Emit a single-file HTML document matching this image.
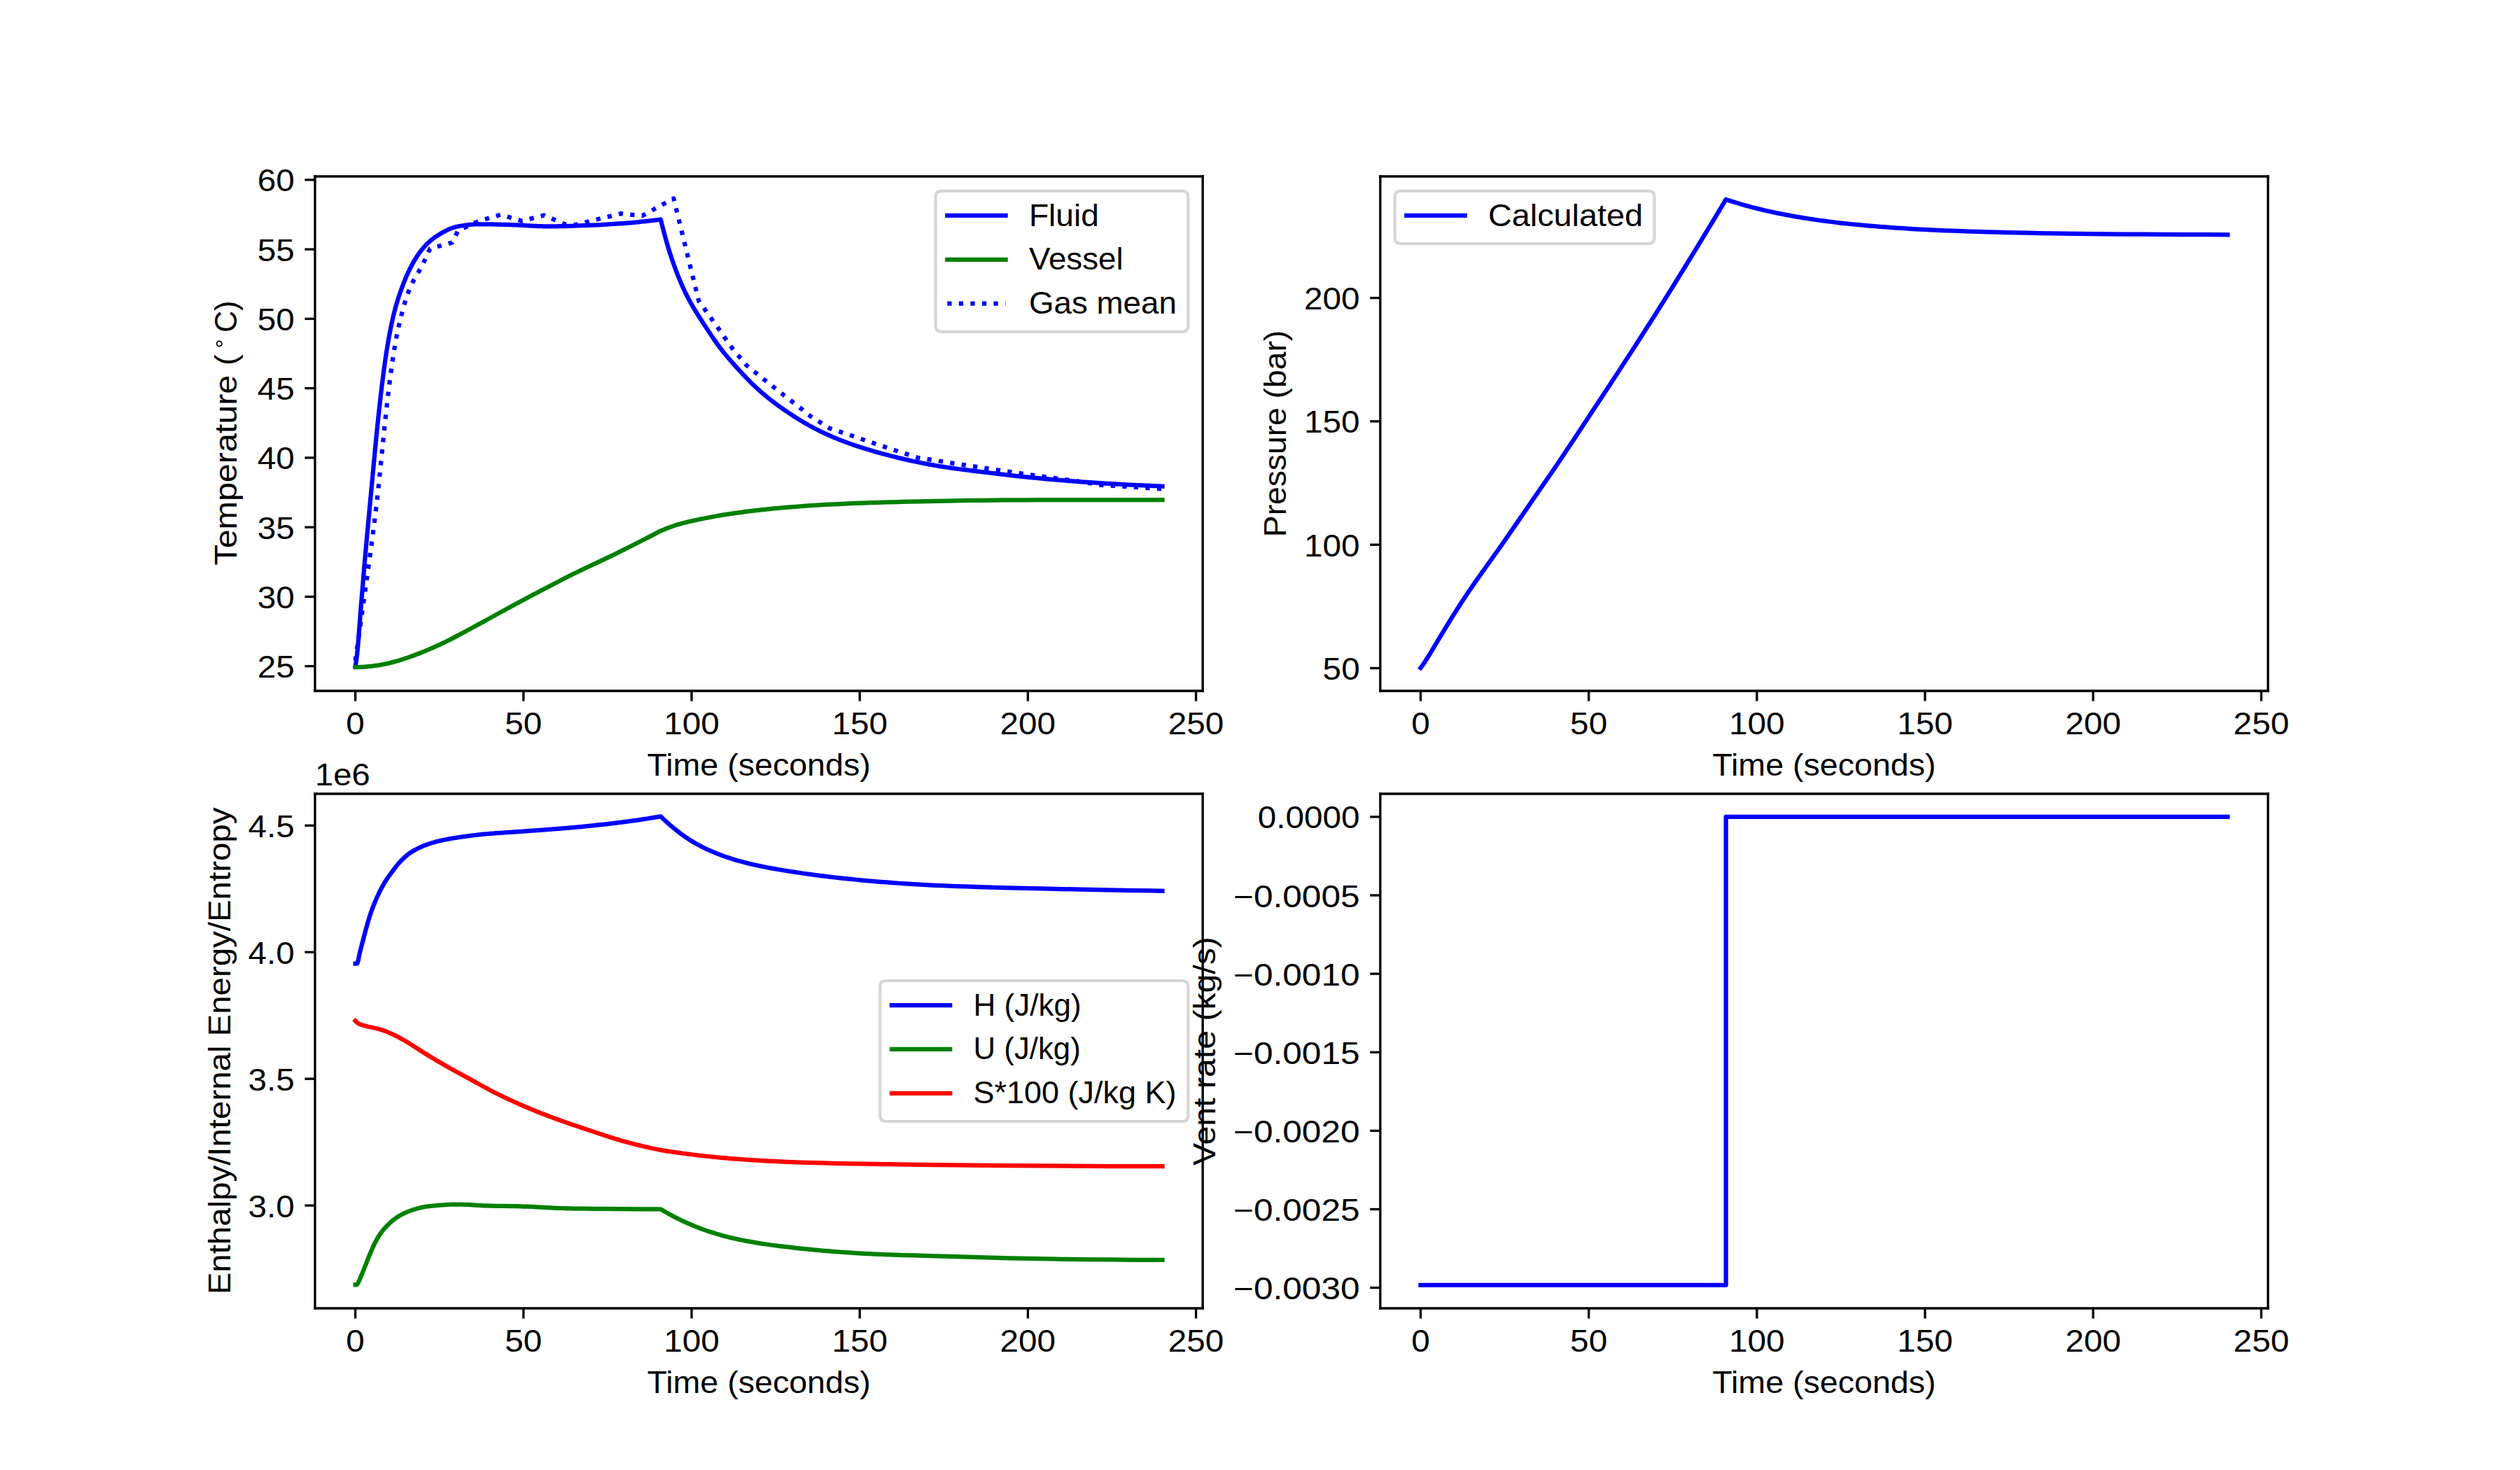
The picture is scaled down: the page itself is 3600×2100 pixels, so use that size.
<!DOCTYPE html>
<html><head><meta charset="utf-8"><title>HydDown filling</title><style>html,body{margin:0;padding:0;background:#fff;overflow:hidden}svg{display:block}</style></head><body>

<svg width="3600" height="2100" viewBox="0 0 864 504" version="1.1">
 
 <defs>
  <style type="text/css">*{stroke-linejoin: round; stroke-linecap: butt}</style>
 </defs>
 <g id="figure_1">
  <g id="patch_1">
   <path d="M 0 504 L 864 504 L 864 0 L 0 0 z
" style="fill: #ffffff"/>
  </g>
  <g id="axes_1">
   <g id="patch_2">
    <path d="M 108 236.88 L 412.363636 236.88 L 412.363636 60.48 L 108 60.48 z
" style="fill: #ffffff"/>
   </g>
   <g id="matplotlib.axis_1">
    <g id="xtick_1">
     <g id="line2d_1">
      <defs>
       <path id="ma447942d81" d="M 0 0 L 0 3.5 
" style="stroke: #000000; stroke-width: 0.8"/>
      </defs>
      <g>
       <use href="#ma447942d81" x="121.834711" y="236.88" style="stroke: #000000; stroke-width: 0.8"/>
      </g>
     </g>
     <g id="text_1">
      <text style="font-size: 10.5px; font-family: 'Liberation Sans', sans-serif; text-anchor: middle" x="121.834711" y="251.8" transform="rotate(-0 121.834711 251.8)" textLength="6.3623" lengthAdjust="spacingAndGlyphs">0</text>
     </g>
    </g>
    <g id="xtick_2">
     <g id="line2d_2">
      <g>
       <use href="#ma447942d81" x="179.479339" y="236.88" style="stroke: #000000; stroke-width: 0.8"/>
      </g>
     </g>
     <g id="text_2">
      <text style="font-size: 10.5px; font-family: 'Liberation Sans', sans-serif; text-anchor: middle" x="179.479339" y="251.8" transform="rotate(-0 179.479339 251.8)" textLength="12.7246" lengthAdjust="spacingAndGlyphs">50</text>
     </g>
    </g>
    <g id="xtick_3">
     <g id="line2d_3">
      <g>
       <use href="#ma447942d81" x="237.123967" y="236.88" style="stroke: #000000; stroke-width: 0.8"/>
      </g>
     </g>
     <g id="text_3">
      <text style="font-size: 10.5px; font-family: 'Liberation Sans', sans-serif; text-anchor: middle" x="237.123967" y="251.8" transform="rotate(-0 237.123967 251.8)" textLength="19.0869" lengthAdjust="spacingAndGlyphs">100</text>
     </g>
    </g>
    <g id="xtick_4">
     <g id="line2d_4">
      <g>
       <use href="#ma447942d81" x="294.768595" y="236.88" style="stroke: #000000; stroke-width: 0.8"/>
      </g>
     </g>
     <g id="text_4">
      <text style="font-size: 10.5px; font-family: 'Liberation Sans', sans-serif; text-anchor: middle" x="294.768595" y="251.8" transform="rotate(-0 294.768595 251.8)" textLength="19.0869" lengthAdjust="spacingAndGlyphs">150</text>
     </g>
    </g>
    <g id="xtick_5">
     <g id="line2d_5">
      <g>
       <use href="#ma447942d81" x="352.413223" y="236.88" style="stroke: #000000; stroke-width: 0.8"/>
      </g>
     </g>
     <g id="text_5">
      <text style="font-size: 10.5px; font-family: 'Liberation Sans', sans-serif; text-anchor: middle" x="352.413223" y="251.8" transform="rotate(-0 352.413223 251.8)" textLength="19.0869" lengthAdjust="spacingAndGlyphs">200</text>
     </g>
    </g>
    <g id="xtick_6">
     <g id="line2d_6">
      <g>
       <use href="#ma447942d81" x="410.057851" y="236.88" style="stroke: #000000; stroke-width: 0.8"/>
      </g>
     </g>
     <g id="text_6">
      <text style="font-size: 10.5px; font-family: 'Liberation Sans', sans-serif; text-anchor: middle" x="410.057851" y="251.8" transform="rotate(-0 410.057851 251.8)" textLength="19.0869" lengthAdjust="spacingAndGlyphs">250</text>
     </g>
    </g>
    <g id="text_7">
     <text style="font-size: 10.5px; font-family: 'Liberation Sans', sans-serif; text-anchor: middle" x="260.181818" y="265.88" transform="rotate(-0 260.181818 265.88)" textLength="76.6357" lengthAdjust="spacingAndGlyphs">Time (seconds)</text>
    </g>
   </g>
   <g id="matplotlib.axis_2">
    <g id="ytick_1">
     <g id="line2d_7">
      <defs>
       <path id="m3c3b05f1c0" d="M 0 0 L -3.5 0 
" style="stroke: #000000; stroke-width: 0.8"/>
      </defs>
      <g>
       <use href="#m3c3b05f1c0" x="108" y="228.408989" style="stroke: #000000; stroke-width: 0.8"/>
      </g>
     </g>
     <g id="text_8">
      <text style="font-size: 10.5px; font-family: 'Liberation Sans', sans-serif; text-anchor: end" x="101" y="232.368989" transform="rotate(-0 101 232.368989)" textLength="12.7246" lengthAdjust="spacingAndGlyphs">25</text>
     </g>
    </g>
    <g id="ytick_2">
     <g id="line2d_8">
      <g>
       <use href="#m3c3b05f1c0" x="108" y="204.587246" style="stroke: #000000; stroke-width: 0.8"/>
      </g>
     </g>
     <g id="text_9">
      <text style="font-size: 10.5px; font-family: 'Liberation Sans', sans-serif; text-anchor: end" x="101" y="208.547246" transform="rotate(-0 101 208.547246)" textLength="12.7246" lengthAdjust="spacingAndGlyphs">30</text>
     </g>
    </g>
    <g id="ytick_3">
     <g id="line2d_9">
      <g>
       <use href="#m3c3b05f1c0" x="108" y="180.765504" style="stroke: #000000; stroke-width: 0.8"/>
      </g>
     </g>
     <g id="text_10">
      <text style="font-size: 10.5px; font-family: 'Liberation Sans', sans-serif; text-anchor: end" x="101" y="184.725504" transform="rotate(-0 101 184.725504)" textLength="12.7246" lengthAdjust="spacingAndGlyphs">35</text>
     </g>
    </g>
    <g id="ytick_4">
     <g id="line2d_10">
      <g>
       <use href="#m3c3b05f1c0" x="108" y="156.943762" style="stroke: #000000; stroke-width: 0.8"/>
      </g>
     </g>
     <g id="text_11">
      <text style="font-size: 10.5px; font-family: 'Liberation Sans', sans-serif; text-anchor: end" x="101" y="160.903762" transform="rotate(-0 101 160.903762)" textLength="12.7246" lengthAdjust="spacingAndGlyphs">40</text>
     </g>
    </g>
    <g id="ytick_5">
     <g id="line2d_11">
      <g>
       <use href="#m3c3b05f1c0" x="108" y="133.12202" style="stroke: #000000; stroke-width: 0.8"/>
      </g>
     </g>
     <g id="text_12">
      <text style="font-size: 10.5px; font-family: 'Liberation Sans', sans-serif; text-anchor: end" x="101" y="137.08202" transform="rotate(-0 101 137.08202)" textLength="12.7246" lengthAdjust="spacingAndGlyphs">45</text>
     </g>
    </g>
    <g id="ytick_6">
     <g id="line2d_12">
      <g>
       <use href="#m3c3b05f1c0" x="108" y="109.300278" style="stroke: #000000; stroke-width: 0.8"/>
      </g>
     </g>
     <g id="text_13">
      <text style="font-size: 10.5px; font-family: 'Liberation Sans', sans-serif; text-anchor: end" x="101" y="113.260278" transform="rotate(-0 101 113.260278)" textLength="12.7246" lengthAdjust="spacingAndGlyphs">50</text>
     </g>
    </g>
    <g id="ytick_7">
     <g id="line2d_13">
      <g>
       <use href="#m3c3b05f1c0" x="108" y="85.478536" style="stroke: #000000; stroke-width: 0.8"/>
      </g>
     </g>
     <g id="text_14">
      <text style="font-size: 10.5px; font-family: 'Liberation Sans', sans-serif; text-anchor: end" x="101" y="89.438536" transform="rotate(-0 101 89.438536)" textLength="12.7246" lengthAdjust="spacingAndGlyphs">55</text>
     </g>
    </g>
    <g id="ytick_8">
     <g id="line2d_14">
      <g>
       <use href="#m3c3b05f1c0" x="108" y="61.656794" style="stroke: #000000; stroke-width: 0.8"/>
      </g>
     </g>
     <g id="text_15">
      <text style="font-size: 10.5px; font-family: 'Liberation Sans', sans-serif; text-anchor: end" x="101" y="65.616794" transform="rotate(-0 101 65.616794)" textLength="12.7246" lengthAdjust="spacingAndGlyphs">60</text>
     </g>
    </g>
    <g id="text_16">
     
     <g transform="translate(81.61 193.818356) rotate(-90)">
      <text style="font-size: 10.5px; font-family: 'Liberation Sans', sans-serif" x="0.0" y="-0.40625" textLength="72.3438" lengthAdjust="spacingAndGlyphs">Temperature (</text>
<text style="font-size: 10.5px; font-family: 'Liberation Sans', sans-serif" x="79.822266" y="-0.40625" textLength="10.8838" lengthAdjust="spacingAndGlyphs">C)</text>
<circle cx="75.9941" cy="-6.4373" r="0.8776" style="fill: none; stroke: #000000; stroke-width: 0.4117"/>
     </g>
    </g>
   </g>
   <g id="line2d_15">
    <path d="M 121.834711 228.408989 L 121.95 227.78561 L 122.065289 227.094668 L 122.180579 226.323497 L 122.295868 225.459291 L 122.411157 224.478176 L 122.526446 223.379282 L 122.641736 222.176769 L 122.757025 220.884794 L 122.872314 219.517515 L 122.987603 218.089092 L 123.333471 213.525677 L 123.56405 210.500069 L 123.794628 207.585639 L 124.486364 199.245887 L 124.832231 195.113088 L 125.178099 191.084719 L 125.523967 187.189878 L 125.869835 183.414933 L 126.67686 174.758 L 128.521488 155.052842 L 128.867355 151.464045 L 129.213223 147.962907 L 129.559091 144.565305 L 129.789669 142.363265 L 130.020248 140.214318 L 130.250826 138.120058 L 130.481405 136.081646 L 130.711983 134.099973 L 130.942562 132.175843 L 131.17314 130.310111 L 131.403719 128.503736 L 131.634298 126.75773 L 131.864876 125.072989 L 132.095455 123.450058 L 132.326033 121.888915 L 132.556612 120.388829 L 132.78719 118.948367 L 133.017769 117.565535 L 133.248347 116.23802 L 133.478926 114.963466 L 133.709504 113.739712 L 133.940083 112.564944 L 134.170661 111.43772 L 134.40124 110.356906 L 134.631818 109.321529 L 134.862397 108.330594 L 135.092975 107.382901 L 135.323554 106.476905 L 135.554132 105.610623 L 135.784711 104.781608 L 136.015289 103.986996 L 136.245868 103.223606 L 136.476446 102.488095 L 136.707025 101.777126 L 136.937603 101.087553 L 137.168182 100.416573 L 137.51405 99.439998 L 137.859917 98.49452 L 138.205785 97.577248 L 138.551653 96.687574 L 138.897521 95.826446 L 139.243388 94.995551 L 139.473967 94.459253 L 139.704545 93.937478 L 139.935124 93.430362 L 140.165702 92.937803 L 140.396281 92.459457 L 140.62686 91.994766 L 140.857438 91.543018 L 141.088017 91.103425 L 141.433884 90.465143 L 141.779752 89.850239 L 142.12562 89.257199 L 142.471488 88.685277 L 142.817355 88.13434 L 143.163223 87.604623 L 143.393802 87.26344 L 143.62438 86.93193 L 143.854959 86.610129 L 144.085537 86.298002 L 144.316116 85.995425 L 144.546694 85.702176 L 144.777273 85.417939 L 145.12314 85.007601 L 145.469008 84.615122 L 145.814876 84.238999 L 146.160744 83.877984 L 146.506612 83.531219 L 146.852479 83.19825 L 147.198347 82.878925 L 147.544215 82.57326 L 147.890083 82.281286 L 148.23595 82.002887 L 148.581818 81.737657 L 148.927686 81.484777 L 149.273554 81.242999 L 149.619421 81.010743 L 150.080579 80.713007 L 150.541736 80.42588 L 151.002893 80.147356 L 151.46405 79.876903 L 151.925207 79.615054 L 152.386364 79.362899 L 152.847521 79.121754 L 153.193388 78.94895 L 153.539256 78.783704 L 153.885124 78.626604 L 154.230992 78.478231 L 154.57686 78.339148 L 154.922727 78.209862 L 155.268595 78.090773 L 155.614463 77.982071 L 155.960331 77.883621 L 156.306198 77.794864 L 156.652066 77.714794 L 156.997934 77.642052 L 157.459091 77.553887 L 158.035537 77.453546 L 158.727273 77.342824 L 159.419008 77.240901 L 159.995455 77.163105 L 160.571901 77.092636 L 161.148347 77.030359 L 161.724793 76.977141 L 162.18595 76.941644 L 162.647107 76.912815 L 163.108264 76.890807 L 163.684711 76.87255 L 164.261157 76.863211 L 164.952893 76.860532 L 165.875207 76.865286 L 167.143388 76.879859 L 168.642149 76.905119 L 170.486777 76.944892 L 173.13843 77.011277 L 174.983058 77.063465 L 176.020661 77.101184 L 177.058264 77.147221 L 178.211157 77.206329 L 179.940496 77.304171 L 182.47686 77.447546 L 183.629752 77.504783 L 184.667355 77.548382 L 185.589669 77.578923 L 186.396694 77.598061 L 187.203719 77.609431 L 188.126033 77.613376 L 189.163636 77.608824 L 190.431818 77.594275 L 191.815289 77.569953 L 193.429339 77.533295 L 195.735124 77.471839 L 198.502066 77.391213 L 200.116116 77.335688 L 201.730165 77.271766 L 203.344215 77.199911 L 205.073554 77.114734 L 206.802893 77.021735 L 208.647521 76.914665 L 210.607438 76.792876 L 212.452066 76.67076 L 213.720248 76.57987 L 214.87314 76.489755 L 216.026033 76.392143 L 217.294215 76.276571 L 218.562397 76.153004 L 219.945868 76.009808 L 221.329339 75.85863 L 222.828099 75.686772 L 224.442149 75.493436 L 226.402066 75.249686 L 226.517355 75.235187 L 227.093802 77.521004 L 227.439669 78.867141 L 227.785537 80.18518 L 228.131405 81.469383 L 228.477273 82.715743 L 228.82314 83.922027 L 229.169008 85.087677 L 229.514876 86.213562 L 229.860744 87.301637 L 230.206612 88.354558 L 230.552479 89.375292 L 230.898347 90.366763 L 231.244215 91.331572 L 231.590083 92.271805 L 231.93595 93.188942 L 232.281818 94.083855 L 232.627686 94.956891 L 232.973554 95.80801 L 233.319421 96.636956 L 233.665289 97.443431 L 234.011157 98.22725 L 234.357025 98.988462 L 234.702893 99.727416 L 235.04876 100.44478 L 235.394628 101.141519 L 235.740496 101.818832 L 236.086364 102.478077 L 236.432231 103.120687 L 236.778099 103.748096 L 237.123967 104.361684 L 237.585124 105.160515 L 238.046281 105.93983 L 238.507438 106.702115 L 238.968595 107.449662 L 239.545041 108.366705 L 240.121488 109.268337 L 240.813223 110.33564 L 241.735537 111.743663 L 243.003719 113.664835 L 243.926033 115.048621 L 244.617769 116.071439 L 245.194215 116.908568 L 245.655372 117.565543 L 246.116529 118.209419 L 246.577686 118.839022 L 247.038843 119.453726 L 247.5 120.053494 L 247.961157 120.638848 L 248.422314 121.210789 L 248.883471 121.770683 L 249.459917 122.456034 L 250.036364 123.128266 L 250.728099 123.92183 L 251.535124 124.834673 L 252.457438 125.865285 L 253.379752 126.883247 L 254.186777 127.761465 L 254.878512 128.502641 L 255.570248 129.231251 L 256.146694 129.827848 L 256.72314 130.414298 L 257.299587 130.990353 L 257.876033 131.555928 L 258.452479 132.111013 L 259.028926 132.655605 L 259.605372 133.189687 L 260.181818 133.713245 L 260.758264 134.226312 L 261.334711 134.729008 L 261.911157 135.221561 L 262.487603 135.704307 L 263.06405 136.177653 L 263.640496 136.642037 L 264.332231 137.188075 L 265.023967 137.72252 L 265.715702 138.245998 L 266.407438 138.759107 L 267.099174 139.262481 L 267.790909 139.75682 L 268.597934 140.323129 L 269.404959 140.879241 L 270.211983 141.425828 L 271.019008 141.962877 L 271.826033 142.48962 L 272.517769 142.931946 L 273.78595 143.728941 L 274.477686 144.152236 L 275.169421 144.567242 L 275.861157 144.974027 L 276.552893 145.372651 L 277.244628 145.763162 L 277.936364 146.145604 L 278.628099 146.520018 L 279.319835 146.88645 L 280.01157 147.244952 L 280.703306 147.595584 L 281.395041 147.938418 L 282.086777 148.273541 L 282.893802 148.654912 L 283.700826 149.026121 L 284.507851 149.387393 L 285.314876 149.738983 L 286.121901 150.081175 L 286.928926 150.41428 L 287.73595 150.738629 L 288.542975 151.054571 L 289.35 151.362467 L 290.157025 151.662686 L 291.079339 151.996865 L 292.001653 152.322046 L 292.923967 152.638764 L 293.846281 152.947534 L 294.883884 153.286008 L 295.921488 153.61569 L 296.959091 153.937177 L 298.111983 154.28542 L 299.264876 154.624851 L 300.417769 154.95602 L 301.570661 155.279385 L 302.838843 155.626507 L 304.107025 155.964997 L 305.375207 156.295101 L 306.643388 156.616958 L 307.91157 156.930611 L 309.179752 157.236013 L 310.447934 157.533044 L 311.716116 157.821521 L 312.984298 158.101224 L 314.13719 158.347683 L 315.290083 158.586518 L 316.442975 158.817575 L 317.595868 159.040742 L 318.74876 159.255964 L 319.901653 159.463262 L 321.054545 159.662744 L 322.207438 159.854615 L 323.47562 160.057251 L 324.743802 160.251594 L 326.127273 160.454941 L 327.510744 160.650235 L 329.009504 160.853998 L 330.738843 161.080855 L 332.69876 161.329797 L 335.119835 161.629014 L 338.232645 162.005144 L 341.576033 162.401202 L 344.573554 162.748373 L 347.109917 163.03437 L 349.415702 163.286764 L 351.721488 163.530963 L 353.911983 163.754824 L 356.102479 163.970493 L 358.292975 164.177859 L 360.483471 164.376894 L 362.673967 164.567612 L 364.864463 164.750067 L 367.054959 164.924369 L 369.245455 165.090711 L 371.55124 165.257527 L 373.857025 165.41629 L 376.278099 165.574902 L 378.814463 165.732886 L 381.466116 165.889902 L 384.233058 166.045727 L 387.230579 166.2063 L 390.458678 166.370974 L 394.263223 166.556524 L 398.528926 166.75832 L 398.528926 166.75832 
" clip-path="url(#p37c6fcc2a8)" style="fill: none; stroke: #0000ff; stroke-width: 1.5; stroke-linecap: square"/>
   </g>
   <g id="line2d_16">
    <path d="M 121.834711 228.742493 L 122.411157 228.738043 L 122.987603 228.725603 L 123.56405 228.701214 L 124.255785 228.66364 L 124.947521 228.618656 L 125.639256 228.565191 L 126.100413 228.5228 L 127.599174 228.369519 L 128.17562 228.300409 L 128.752066 228.224298 L 129.328512 228.14121 L 129.904959 228.051172 L 130.481405 227.954172 L 131.057851 227.85014 L 131.634298 227.738956 L 132.210744 227.620483 L 132.78719 227.494618 L 133.363636 227.361338 L 133.940083 227.220744 L 134.516529 227.073071 L 135.208264 226.887042 L 135.9 226.692154 L 136.591736 226.48928 L 137.39876 226.24358 L 138.205785 225.989095 L 139.01281 225.726367 L 139.819835 225.455518 L 140.62686 225.176391 L 141.433884 224.88875 L 142.240909 224.59245 L 143.047934 224.287536 L 143.854959 223.97426 L 144.661983 223.653034 L 145.584298 223.276833 L 146.506612 222.891672 L 147.428926 222.498182 L 148.35124 222.0967 L 149.273554 221.687157 L 150.195868 221.269072 L 151.118182 220.841696 L 151.925207 220.459546 L 152.732231 220.069439 L 153.539256 219.671402 L 154.46157 219.207281 L 155.383884 218.734324 L 156.421488 218.193416 L 157.689669 217.522729 L 159.303719 216.659595 L 161.724793 215.355168 L 163.8 214.228683 L 165.644628 213.217735 L 167.835124 212.007247 L 171.409091 210.031805 L 173.253719 209.022252 L 175.213636 207.959091 L 177.404132 206.78011 L 179.825207 205.486001 L 182.36157 204.139561 L 185.128512 202.680297 L 188.126033 201.108568 L 190.431818 199.90828 L 192.276446 198.957239 L 193.890496 198.134501 L 195.273967 197.437966 L 196.657438 196.750519 L 198.040909 196.072534 L 199.42438 195.403487 L 201.03843 194.632352 L 203.113636 193.650876 L 207.725207 191.473413 L 209.339256 190.70101 L 210.838017 189.975391 L 212.336777 189.241236 L 213.950826 188.441787 L 215.795455 187.518613 L 217.755372 186.528454 L 219.830579 185.470788 L 221.905785 184.403834 L 223.980992 183.32791 L 226.517355 182.004235 L 227.554959 181.581005 L 228.361983 181.260467 L 229.053719 180.994375 L 229.745455 180.737678 L 230.321901 180.531556 L 230.898347 180.332843 L 231.474793 180.141716 L 232.05124 179.958249 L 232.627686 179.782413 L 233.204132 179.61406 L 233.780579 179.45292 L 234.472314 179.268506 L 235.16405 179.093016 L 235.855785 178.925419 L 236.66281 178.738413 L 237.585124 178.533848 L 238.622727 178.31259 L 239.890909 178.050957 L 241.504959 177.726774 L 243.119008 177.410557 L 244.502479 177.147736 L 245.655372 176.936482 L 246.808264 176.733627 L 247.845868 176.558829 L 248.99876 176.373235 L 250.151653 176.196022 L 251.419835 176.009491 L 252.803306 175.814636 L 254.186777 175.62779 L 255.685537 175.433646 L 257.184298 175.247469 L 258.798347 175.055234 L 260.412397 174.870985 L 262.141736 174.681975 L 263.755785 174.513314 L 265.369835 174.352315 L 266.983884 174.199151 L 268.597934 174.053823 L 270.327273 173.906546 L 272.056612 173.767437 L 274.477686 173.582105 L 276.322314 173.449985 L 278.166942 173.325993 L 280.12686 173.202655 L 282.086777 173.087425 L 284.161983 172.973627 L 286.352479 172.861954 L 288.542975 172.758233 L 290.84876 172.656892 L 293.269835 172.558371 L 295.806198 172.463049 L 298.457851 172.371249 L 301.340083 172.27969 L 304.337603 172.192521 L 307.680992 172.103547 L 311.370248 172.013516 L 315.63595 171.917574 L 320.36281 171.819345 L 324.97438 171.73128 L 329.240083 171.657577 L 333.159917 171.597641 L 336.849174 171.549056 L 340.42314 171.509874 L 343.997107 171.478623 L 347.801653 171.453573 L 351.952066 171.434393 L 357.140083 171.418877 L 364.749174 171.404993 L 377.546281 171.390402 L 392.072727 171.381706 L 398.528926 171.379738 L 398.528926 171.379738 
" clip-path="url(#p37c6fcc2a8)" style="fill: none; stroke: #008000; stroke-width: 1.5; stroke-linecap: square"/>
   </g>
   <g id="line2d_17">
    <path d="M 121.834711 226.503249 L 123.102893 217.543118 L 123.909917 211.781215 L 124.947521 204.304168 L 126.792149 190.945671 L 127.253306 187.552319 L 127.599174 184.964644 L 127.945041 182.324773 L 128.290909 179.616711 L 128.636777 176.822929 L 128.867355 174.903933 L 129.097934 172.934079 L 129.328512 170.909607 L 129.559091 168.828439 L 129.789669 166.690795 L 130.135537 163.385804 L 130.481405 159.983839 L 131.057851 154.20074 L 131.519008 149.593985 L 131.864876 146.216621 L 132.210744 142.939119 L 132.441322 140.817686 L 132.671901 138.749265 L 132.902479 136.733885 L 133.133058 134.770912 L 133.363636 132.85989 L 133.594215 131.00118 L 133.824793 129.196275 L 134.055372 127.447769 L 134.28595 125.759013 L 134.516529 124.133558 L 134.747107 122.574507 L 134.977686 121.0839 L 135.208264 119.662269 L 135.438843 118.308408 L 135.669421 117.019434 L 135.9 115.791087 L 136.130579 114.618219 L 136.361157 113.495353 L 136.591736 112.417215 L 136.822314 111.379133 L 137.052893 110.377273 L 137.283471 109.408701 L 137.51405 108.471316 L 137.744628 107.563709 L 137.975207 106.684983 L 138.205785 105.834602 L 138.436364 105.012258 L 138.666942 104.217785 L 138.897521 103.451104 L 139.128099 102.712197 L 139.358678 102.00109 L 139.589256 101.317853 L 139.819835 100.662588 L 140.050413 100.035402 L 140.280992 99.436357 L 140.51157 98.865397 L 140.742149 98.322241 L 140.972727 97.806268 L 141.203306 97.316391 L 141.433884 96.85097 L 141.664463 96.40775 L 141.895041 95.983874 L 142.12562 95.575951 L 142.471488 94.985612 L 143.62438 93.047757 L 143.970248 92.436 L 144.316116 91.800829 L 144.661983 91.14182 L 145.007851 90.460317 L 145.353719 89.758378 L 145.699587 89.038103 L 146.045455 88.301452 L 146.506612 87.297367 L 147.083058 86.016255 L 147.428926 85.240319 L 155.038017 83.144005 L 156.997934 79.141953 L 163.8 75.949839 L 171.639669 73.615309 L 179.018182 75.759265 L 186.511983 73.805883 L 193.544628 76.855065 L 197.349174 77.045639 L 212.913223 73.234161 L 220.176446 73.996456 L 230.955992 68.041021 L 239.545041 103.106625 L 244.133554 109.586139 L 246.462397 112.825896 L 250.958678 119.30541 L 256.031405 125.308489 L 262.257025 130.358698 L 268.482645 135.265977 L 274.765909 140.173256 L 277.821074 142.698361 L 284.507851 146.890987 L 292.001653 149.368448 L 299.495455 151.941196 L 307.104545 154.466301 L 314.655992 156.896119 L 329.931818 159.325937 L 349.646281 162.279833 L 369.130165 164.947868 L 377.546281 166.281885 L 395.531405 167.425329 L 398.528926 167.663546 L 398.528926 167.663546 
" clip-path="url(#p37c6fcc2a8)" style="fill: none; stroke-dasharray: 1.5,2.475; stroke-dashoffset: 0; stroke: #0000ff; stroke-width: 1.5"/>
   </g>
   <g id="patch_3">
    <path d="M 108 236.88 L 108 60.48 
" style="fill: none; stroke: #000000; stroke-width: 0.8; stroke-linejoin: miter; stroke-linecap: square"/>
   </g>
   <g id="patch_4">
    <path d="M 412.363636 236.88 L 412.363636 60.48 
" style="fill: none; stroke: #000000; stroke-width: 0.8; stroke-linejoin: miter; stroke-linecap: square"/>
   </g>
   <g id="patch_5">
    <path d="M 108 236.88 L 412.363636 236.88 
" style="fill: none; stroke: #000000; stroke-width: 0.8; stroke-linejoin: miter; stroke-linecap: square"/>
   </g>
   <g id="patch_6">
    <path d="M 108 60.48 L 412.363636 60.48 
" style="fill: none; stroke: #000000; stroke-width: 0.8; stroke-linejoin: miter; stroke-linecap: square"/>
   </g>
   <g id="legend_1">
    <g id="patch_7">
     <path d="M 322.783636 113.72 L 405.363636 113.72 Q 407.363636 113.72 407.363636 111.72 L 407.363636 67.48 Q 407.363636 65.48 405.363636 65.48 L 322.783636 65.48 Q 320.783636 65.48 320.783636 67.48 L 320.783636 111.72 Q 320.783636 113.72 322.783636 113.72 z
" style="fill: #ffffff; opacity: 0.8; stroke: #cccccc; stroke-linejoin: miter"/>
    </g>
    <g id="line2d_18">
     <path d="M 324.783636 73.9 L 334.783636 73.9 L 344.783636 73.9 
" style="fill: none; stroke: #0000ff; stroke-width: 1.5; stroke-linecap: square"/>
    </g>
    <g id="text_17">
     <text style="font-size: 10.5px; font-family: 'Liberation Sans', sans-serif; text-anchor: start" x="352.783636" y="77.4" transform="rotate(-0 352.783636 77.4)" textLength="23.9941" lengthAdjust="spacingAndGlyphs">Fluid</text>
    </g>
    <g id="line2d_19">
     <path d="M 324.783636 88.98 L 334.783636 88.98 L 344.783636 88.98 
" style="fill: none; stroke: #008000; stroke-width: 1.5; stroke-linecap: square"/>
    </g>
    <g id="text_18">
     <text style="font-size: 10.5px; font-family: 'Liberation Sans', sans-serif; text-anchor: start" x="352.783636" y="92.48" transform="rotate(-0 352.783636 92.48)" textLength="32.3438" lengthAdjust="spacingAndGlyphs">Vessel</text>
    </g>
    <g id="line2d_20">
     <path d="M 324.783636 104.06 L 334.783636 104.06 L 344.783636 104.06 
" style="fill: none; stroke-dasharray: 1.5,2.475; stroke-dashoffset: 0; stroke: #0000ff; stroke-width: 1.5"/>
    </g>
    <g id="text_19">
     <text style="font-size: 10.5px; font-family: 'Liberation Sans', sans-serif; text-anchor: start" x="352.783636" y="107.56" transform="rotate(-0 352.783636 107.56)" textLength="50.6250" lengthAdjust="spacingAndGlyphs">Gas mean</text>
    </g>
   </g>
  </g>
  <g id="axes_2">
   <g id="patch_8">
    <path d="M 473.236364 236.88 L 777.6 236.88 L 777.6 60.48 L 473.236364 60.48 z
" style="fill: #ffffff"/>
   </g>
   <g id="matplotlib.axis_3">
    <g id="xtick_7">
     <g id="line2d_21">
      <g>
       <use href="#ma447942d81" x="487.071074" y="236.88" style="stroke: #000000; stroke-width: 0.8"/>
      </g>
     </g>
     <g id="text_20">
      <text style="font-size: 10.5px; font-family: 'Liberation Sans', sans-serif; text-anchor: middle" x="487.071074" y="251.8" transform="rotate(-0 487.071074 251.8)" textLength="6.3623" lengthAdjust="spacingAndGlyphs">0</text>
     </g>
    </g>
    <g id="xtick_8">
     <g id="line2d_22">
      <g>
       <use href="#ma447942d81" x="544.715702" y="236.88" style="stroke: #000000; stroke-width: 0.8"/>
      </g>
     </g>
     <g id="text_21">
      <text style="font-size: 10.5px; font-family: 'Liberation Sans', sans-serif; text-anchor: middle" x="544.715702" y="251.8" transform="rotate(-0 544.715702 251.8)" textLength="12.7246" lengthAdjust="spacingAndGlyphs">50</text>
     </g>
    </g>
    <g id="xtick_9">
     <g id="line2d_23">
      <g>
       <use href="#ma447942d81" x="602.360331" y="236.88" style="stroke: #000000; stroke-width: 0.8"/>
      </g>
     </g>
     <g id="text_22">
      <text style="font-size: 10.5px; font-family: 'Liberation Sans', sans-serif; text-anchor: middle" x="602.360331" y="251.8" transform="rotate(-0 602.360331 251.8)" textLength="19.0869" lengthAdjust="spacingAndGlyphs">100</text>
     </g>
    </g>
    <g id="xtick_10">
     <g id="line2d_24">
      <g>
       <use href="#ma447942d81" x="660.004959" y="236.88" style="stroke: #000000; stroke-width: 0.8"/>
      </g>
     </g>
     <g id="text_23">
      <text style="font-size: 10.5px; font-family: 'Liberation Sans', sans-serif; text-anchor: middle" x="660.004959" y="251.8" transform="rotate(-0 660.004959 251.8)" textLength="19.0869" lengthAdjust="spacingAndGlyphs">150</text>
     </g>
    </g>
    <g id="xtick_11">
     <g id="line2d_25">
      <g>
       <use href="#ma447942d81" x="717.649587" y="236.88" style="stroke: #000000; stroke-width: 0.8"/>
      </g>
     </g>
     <g id="text_24">
      <text style="font-size: 10.5px; font-family: 'Liberation Sans', sans-serif; text-anchor: middle" x="717.649587" y="251.8" transform="rotate(-0 717.649587 251.8)" textLength="19.0869" lengthAdjust="spacingAndGlyphs">200</text>
     </g>
    </g>
    <g id="xtick_12">
     <g id="line2d_26">
      <g>
       <use href="#ma447942d81" x="775.294215" y="236.88" style="stroke: #000000; stroke-width: 0.8"/>
      </g>
     </g>
     <g id="text_25">
      <text style="font-size: 10.5px; font-family: 'Liberation Sans', sans-serif; text-anchor: middle" x="775.294215" y="251.8" transform="rotate(-0 775.294215 251.8)" textLength="19.0869" lengthAdjust="spacingAndGlyphs">250</text>
     </g>
    </g>
    <g id="text_26">
     <text style="font-size: 10.5px; font-family: 'Liberation Sans', sans-serif; text-anchor: middle" x="625.418182" y="265.88" transform="rotate(-0 625.418182 265.88)" textLength="76.6357" lengthAdjust="spacingAndGlyphs">Time (seconds)</text>
    </g>
   </g>
   <g id="matplotlib.axis_4">
    <g id="ytick_9">
     <g id="line2d_27">
      <g>
       <use href="#m3c3b05f1c0" x="473.236364" y="229.077985" style="stroke: #000000; stroke-width: 0.8"/>
      </g>
     </g>
     <g id="text_27">
      <text style="font-size: 10.5px; font-family: 'Liberation Sans', sans-serif; text-anchor: end" x="466.236364" y="233.037985" transform="rotate(-0 466.236364 233.037985)" textLength="12.7246" lengthAdjust="spacingAndGlyphs">50</text>
     </g>
    </g>
    <g id="ytick_10">
     <g id="line2d_28">
      <g>
       <use href="#m3c3b05f1c0" x="473.236364" y="186.76771" style="stroke: #000000; stroke-width: 0.8"/>
      </g>
     </g>
     <g id="text_28">
      <text style="font-size: 10.5px; font-family: 'Liberation Sans', sans-serif; text-anchor: end" x="466.236364" y="190.72771" transform="rotate(-0 466.236364 190.72771)" textLength="19.0869" lengthAdjust="spacingAndGlyphs">100</text>
     </g>
    </g>
    <g id="ytick_11">
     <g id="line2d_29">
      <g>
       <use href="#m3c3b05f1c0" x="473.236364" y="144.457435" style="stroke: #000000; stroke-width: 0.8"/>
      </g>
     </g>
     <g id="text_29">
      <text style="font-size: 10.5px; font-family: 'Liberation Sans', sans-serif; text-anchor: end" x="466.236364" y="148.417435" transform="rotate(-0 466.236364 148.417435)" textLength="19.0869" lengthAdjust="spacingAndGlyphs">150</text>
     </g>
    </g>
    <g id="ytick_12">
     <g id="line2d_30">
      <g>
       <use href="#m3c3b05f1c0" x="473.236364" y="102.147159" style="stroke: #000000; stroke-width: 0.8"/>
      </g>
     </g>
     <g id="text_30">
      <text style="font-size: 10.5px; font-family: 'Liberation Sans', sans-serif; text-anchor: end" x="466.236364" y="106.107159" transform="rotate(-0 466.236364 106.107159)" textLength="19.0869" lengthAdjust="spacingAndGlyphs">200</text>
     </g>
    </g>
    <g id="text_31">
     <text style="font-size: 10.5px; font-family: 'Liberation Sans', sans-serif; text-anchor: middle" x="440.996364" y="148.68" transform="rotate(-90 440.996364 148.68)" textLength="70.8838" lengthAdjust="spacingAndGlyphs">Pressure (bar)</text>
    </g>
   </g>
   <g id="line2d_31">
    <path d="M 487.071074 228.993365 L 487.532231 228.36265 L 487.993388 227.716754 L 488.223967 227.386024 L 488.569835 226.864176 L 488.915702 226.326784 L 489.37686 225.594107 L 489.953306 224.659595 L 490.645041 223.521065 L 491.797934 221.604856 L 493.411983 218.922948 L 496.063636 214.539857 L 496.98595 213.033758 L 497.908264 211.544026 L 498.715289 210.25528 L 499.522314 208.980775 L 500.329339 207.720586 L 501.136364 206.474679 L 501.943388 205.243038 L 502.750413 204.025696 L 503.557438 202.82268 L 504.364463 201.633897 L 505.171488 200.459 L 505.978512 199.297262 L 506.900826 197.98412 L 507.93843 196.522286 L 509.206612 194.751101 L 512.895868 189.608955 L 514.04876 187.98371 L 515.201653 186.34508 L 516.469835 184.5279 L 517.853306 182.531202 L 519.697934 179.854022 L 525.00124 172.149027 L 530.996281 163.459803 L 532.495041 161.267326 L 533.878512 159.23026 L 535.261983 157.179848 L 536.760744 154.944274 L 538.374793 152.522294 L 540.219421 149.739903 L 542.640496 146.07241 L 546.560331 140.117648 L 551.633058 132.398391 L 554.630579 127.823081 L 557.051653 124.113968 L 559.242149 120.744001 L 561.202066 117.714933 L 563.046694 114.850202 L 564.891322 111.970474 L 566.620661 109.256131 L 568.35 106.527352 L 570.194628 103.601131 L 572.039256 100.659706 L 573.883884 97.703835 L 575.843802 94.547907 L 577.803719 91.37647 L 579.763636 88.189689 L 581.723554 84.987702 L 583.683471 81.770654 L 585.643388 78.538769 L 587.718595 75.101311 L 590.139669 71.074161 L 591.753719 68.383559 L 592.676033 68.689132 L 593.598347 68.987042 L 594.63595 69.31327 L 595.673554 69.630309 L 596.711157 69.938419 L 597.74876 70.237849 L 598.786364 70.528846 L 599.823967 70.811646 L 600.86157 71.08648 L 601.899174 71.353573 L 602.936777 71.613143 L 604.089669 71.892988 L 605.242562 72.164088 L 606.395455 72.426717 L 607.548347 72.68114 L 608.70124 72.927613 L 609.854132 73.166384 L 611.122314 73.420424 L 612.390496 73.665745 L 613.658678 73.902648 L 614.92686 74.131421 L 616.195041 74.352343 L 617.463223 74.565683 L 618.846694 74.790076 L 620.230165 75.006082 L 621.613636 75.214014 L 622.997107 75.414173 L 624.495868 75.622579 L 625.994628 75.822559 L 627.493388 76.014453 L 628.992149 76.198589 L 630.606198 76.388573 L 632.220248 76.570298 L 633.834298 76.744123 L 635.563636 76.921988 L 637.292975 77.091581 L 639.022314 77.253288 L 640.866942 77.417495 L 642.71157 77.57357 L 644.556198 77.721916 L 646.516116 77.871491 L 648.476033 78.013208 L 650.55124 78.155154 L 652.626446 78.289217 L 654.816942 78.422658 L 657.007438 78.548288 L 659.313223 78.672594 L 661.734298 78.794894 L 664.155372 78.909306 L 666.691736 79.02126 L 669.343388 79.130237 L 672.110331 79.235779 L 674.992562 79.337494 L 677.990083 79.435054 L 681.102893 79.528194 L 684.330992 79.61671 L 687.67438 79.70046 L 691.248347 79.781856 L 694.937603 79.857884 L 698.857438 79.930634 L 703.007851 79.999567 L 707.388843 80.06427 L 712.115702 80.125859 L 717.07314 80.182394 L 722.376446 80.234911 L 728.140909 80.283934 L 734.366529 80.328831 L 741.168595 80.369839 L 748.662397 80.406958 L 757.078512 80.44046 L 763.765289 80.462063 L 763.765289 80.462063 
" clip-path="url(#p14e720ba4b)" style="fill: none; stroke: #0000ff; stroke-width: 1.5; stroke-linecap: square"/>
   </g>
   <g id="patch_9">
    <path d="M 473.236364 236.88 L 473.236364 60.48 
" style="fill: none; stroke: #000000; stroke-width: 0.8; stroke-linejoin: miter; stroke-linecap: square"/>
   </g>
   <g id="patch_10">
    <path d="M 777.6 236.88 L 777.6 60.48 
" style="fill: none; stroke: #000000; stroke-width: 0.8; stroke-linejoin: miter; stroke-linecap: square"/>
   </g>
   <g id="patch_11">
    <path d="M 473.236364 236.88 L 777.6 236.88 
" style="fill: none; stroke: #000000; stroke-width: 0.8; stroke-linejoin: miter; stroke-linecap: square"/>
   </g>
   <g id="patch_12">
    <path d="M 473.236364 60.48 L 777.6 60.48 
" style="fill: none; stroke: #000000; stroke-width: 0.8; stroke-linejoin: miter; stroke-linecap: square"/>
   </g>
   <g id="legend_2">
    <g id="patch_13">
     <path d="M 480.236364 83.56 L 565.216364 83.56 Q 567.216364 83.56 567.216364 81.56 L 567.216364 67.48 Q 567.216364 65.48 565.216364 65.48 L 480.236364 65.48 Q 478.236364 65.48 478.236364 67.48 L 478.236364 81.56 Q 478.236364 83.56 480.236364 83.56 z
" style="fill: #ffffff; opacity: 0.8; stroke: #cccccc; stroke-linejoin: miter"/>
    </g>
    <g id="line2d_32">
     <path d="M 482.236364 73.9 L 492.236364 73.9 L 502.236364 73.9 
" style="fill: none; stroke: #0000ff; stroke-width: 1.5; stroke-linecap: square"/>
    </g>
    <g id="text_32">
     <text style="font-size: 10.5px; font-family: 'Liberation Sans', sans-serif; text-anchor: start" x="510.236364" y="77.4" transform="rotate(-0 510.236364 77.4)" textLength="53.0518" lengthAdjust="spacingAndGlyphs">Calculated</text>
    </g>
   </g>
  </g>
  <g id="axes_3">
   <g id="patch_14">
    <path d="M 108 448.56 L 412.363636 448.56 L 412.363636 272.16 L 108 272.16 z
" style="fill: #ffffff"/>
   </g>
   <g id="matplotlib.axis_5">
    <g id="xtick_13">
     <g id="line2d_33">
      <g>
       <use href="#ma447942d81" x="121.834711" y="448.56" style="stroke: #000000; stroke-width: 0.8"/>
      </g>
     </g>
     <g id="text_33">
      <text style="font-size: 10.5px; font-family: 'Liberation Sans', sans-serif; text-anchor: middle" x="121.834711" y="463.48" transform="rotate(-0 121.834711 463.48)" textLength="6.3623" lengthAdjust="spacingAndGlyphs">0</text>
     </g>
    </g>
    <g id="xtick_14">
     <g id="line2d_34">
      <g>
       <use href="#ma447942d81" x="179.479339" y="448.56" style="stroke: #000000; stroke-width: 0.8"/>
      </g>
     </g>
     <g id="text_34">
      <text style="font-size: 10.5px; font-family: 'Liberation Sans', sans-serif; text-anchor: middle" x="179.479339" y="463.48" transform="rotate(-0 179.479339 463.48)" textLength="12.7246" lengthAdjust="spacingAndGlyphs">50</text>
     </g>
    </g>
    <g id="xtick_15">
     <g id="line2d_35">
      <g>
       <use href="#ma447942d81" x="237.123967" y="448.56" style="stroke: #000000; stroke-width: 0.8"/>
      </g>
     </g>
     <g id="text_35">
      <text style="font-size: 10.5px; font-family: 'Liberation Sans', sans-serif; text-anchor: middle" x="237.123967" y="463.48" transform="rotate(-0 237.123967 463.48)" textLength="19.0869" lengthAdjust="spacingAndGlyphs">100</text>
     </g>
    </g>
    <g id="xtick_16">
     <g id="line2d_36">
      <g>
       <use href="#ma447942d81" x="294.768595" y="448.56" style="stroke: #000000; stroke-width: 0.8"/>
      </g>
     </g>
     <g id="text_36">
      <text style="font-size: 10.5px; font-family: 'Liberation Sans', sans-serif; text-anchor: middle" x="294.768595" y="463.48" transform="rotate(-0 294.768595 463.48)" textLength="19.0869" lengthAdjust="spacingAndGlyphs">150</text>
     </g>
    </g>
    <g id="xtick_17">
     <g id="line2d_37">
      <g>
       <use href="#ma447942d81" x="352.413223" y="448.56" style="stroke: #000000; stroke-width: 0.8"/>
      </g>
     </g>
     <g id="text_37">
      <text style="font-size: 10.5px; font-family: 'Liberation Sans', sans-serif; text-anchor: middle" x="352.413223" y="463.48" transform="rotate(-0 352.413223 463.48)" textLength="19.0869" lengthAdjust="spacingAndGlyphs">200</text>
     </g>
    </g>
    <g id="xtick_18">
     <g id="line2d_38">
      <g>
       <use href="#ma447942d81" x="410.057851" y="448.56" style="stroke: #000000; stroke-width: 0.8"/>
      </g>
     </g>
     <g id="text_38">
      <text style="font-size: 10.5px; font-family: 'Liberation Sans', sans-serif; text-anchor: middle" x="410.057851" y="463.48" transform="rotate(-0 410.057851 463.48)" textLength="19.0869" lengthAdjust="spacingAndGlyphs">250</text>
     </g>
    </g>
    <g id="text_39">
     <text style="font-size: 10.5px; font-family: 'Liberation Sans', sans-serif; text-anchor: middle" x="260.181818" y="477.56" transform="rotate(-0 260.181818 477.56)" textLength="76.6357" lengthAdjust="spacingAndGlyphs">Time (seconds)</text>
    </g>
   </g>
   <g id="matplotlib.axis_6">
    <g id="ytick_13">
     <g id="line2d_39">
      <g>
       <use href="#m3c3b05f1c0" x="108" y="413.307792" style="stroke: #000000; stroke-width: 0.8"/>
      </g>
     </g>
     <g id="text_40">
      <text style="font-size: 10.5px; font-family: 'Liberation Sans', sans-serif; text-anchor: end" x="101" y="417.267792" transform="rotate(-0 101 417.267792)" textLength="15.9033" lengthAdjust="spacingAndGlyphs">3.0</text>
     </g>
    </g>
    <g id="ytick_14">
     <g id="line2d_40">
      <g>
       <use href="#m3c3b05f1c0" x="108" y="369.883047" style="stroke: #000000; stroke-width: 0.8"/>
      </g>
     </g>
     <g id="text_41">
      <text style="font-size: 10.5px; font-family: 'Liberation Sans', sans-serif; text-anchor: end" x="101" y="373.843047" transform="rotate(-0 101 373.843047)" textLength="15.9033" lengthAdjust="spacingAndGlyphs">3.5</text>
     </g>
    </g>
    <g id="ytick_15">
     <g id="line2d_41">
      <g>
       <use href="#m3c3b05f1c0" x="108" y="326.458301" style="stroke: #000000; stroke-width: 0.8"/>
      </g>
     </g>
     <g id="text_42">
      <text style="font-size: 10.5px; font-family: 'Liberation Sans', sans-serif; text-anchor: end" x="101" y="330.418301" transform="rotate(-0 101 330.418301)" textLength="15.9033" lengthAdjust="spacingAndGlyphs">4.0</text>
     </g>
    </g>
    <g id="ytick_16">
     <g id="line2d_42">
      <g>
       <use href="#m3c3b05f1c0" x="108" y="283.033556" style="stroke: #000000; stroke-width: 0.8"/>
      </g>
     </g>
     <g id="text_43">
      <text style="font-size: 10.5px; font-family: 'Liberation Sans', sans-serif; text-anchor: end" x="101" y="286.993556" transform="rotate(-0 101 286.993556)" textLength="15.9033" lengthAdjust="spacingAndGlyphs">4.5</text>
     </g>
    </g>
    <g id="text_44">
     <text style="font-size: 10.5px; font-family: 'Liberation Sans', sans-serif; text-anchor: middle" x="78.91" y="360.36" transform="rotate(-90 78.91 360.36)" textLength="166.9775" lengthAdjust="spacingAndGlyphs">Enthalpy/Internal Energy/Entropy</text>
    </g>
    <g id="text_45">
     <text style="font-size: 10.5px; font-family: 'Liberation Sans', sans-serif; text-anchor: start" x="108" y="269.16" transform="rotate(-0 108 269.16)" textLength="18.8770" lengthAdjust="spacingAndGlyphs">1e6</text>
    </g>
   </g>
   <g id="line2d_43">
    <path d="M 121.834711 330.409953 L 122.295868 330.409953 L 122.411157 330.38744 L 122.526446 330.218376 L 122.641736 329.908452 L 122.757025 329.487102 L 122.872314 328.983757 L 122.987603 328.42785 L 123.218182 327.261999 L 123.333471 326.731849 L 123.44876 326.265283 L 123.909917 324.502571 L 124.832231 320.961541 L 125.293388 319.233474 L 125.639256 317.954745 L 125.869835 317.121851 L 126.100413 316.312792 L 126.330992 315.532322 L 126.67686 314.404219 L 126.907438 313.683682 L 127.138017 312.992364 L 127.368595 312.329345 L 127.599174 311.69268 L 127.829752 311.079782 L 128.060331 310.487845 L 128.290909 309.914202 L 128.521488 309.356578 L 128.867355 308.546459 L 129.213223 307.764658 L 129.559091 307.009193 L 129.904959 306.279113 L 130.250826 305.573944 L 130.596694 304.893548 L 130.942562 304.23821 L 131.17314 303.815564 L 131.403719 303.404579 L 131.634298 303.005409 L 131.864876 302.618051 L 132.095455 302.242279 L 132.326033 301.877607 L 132.671901 301.34972 L 133.017769 300.841693 L 133.363636 300.349496 L 133.824793 299.710776 L 134.40124 298.929389 L 134.977686 298.159811 L 135.438843 297.55458 L 135.784711 297.110492 L 136.130579 296.678246 L 136.476446 296.260531 L 136.822314 295.859013 L 137.168182 295.474052 L 137.51405 295.104905 L 137.859917 294.750333 L 138.205785 294.409271 L 138.551653 294.081273 L 138.897521 293.766562 L 139.243388 293.46579 L 139.589256 293.179674 L 139.935124 292.908613 L 140.280992 292.652418 L 140.62686 292.410213 L 140.972727 292.18059 L 141.318595 291.961931 L 141.664463 291.752759 L 142.010331 291.551944 L 142.356198 291.35873 L 142.702066 291.172638 L 143.163223 290.935057 L 143.62438 290.70901 L 144.085537 290.493985 L 144.546694 290.289454 L 145.007851 290.094816 L 145.469008 289.909356 L 145.930165 289.732264 L 146.391322 289.562748 L 146.967769 289.360588 L 147.544215 289.168626 L 148.120661 288.986587 L 148.697107 288.814372 L 149.273554 288.651911 L 149.85 288.499073 L 150.426446 288.3555 L 151.002893 288.220442 L 151.579339 288.092814 L 152.271074 287.947975 L 152.96281 287.810996 L 153.769835 287.66004 L 154.57686 287.517642 L 155.383884 287.382813 L 156.306198 287.236723 L 157.343802 287.080737 L 158.611983 286.898926 L 159.995455 286.708966 L 161.263636 286.542553 L 162.531818 286.384334 L 163.684711 286.248308 L 164.837603 286.120365 L 165.990496 286.001128 L 167.028099 285.901781 L 168.065702 285.81046 L 169.103306 285.727326 L 170.256198 285.643569 L 171.639669 285.552004 L 173.830165 285.417066 L 176.020661 285.279615 L 177.634711 285.169302 L 181.785124 284.873268 L 185.359091 284.611626 L 188.241322 284.392587 L 190.662397 284.200926 L 192.968182 284.010338 L 195.043388 283.830942 L 197.118595 283.643274 L 199.193802 283.447387 L 201.269008 283.243294 L 203.344215 283.030837 L 205.304132 282.822357 L 207.26405 282.606135 L 209.223967 282.382036 L 211.183884 282.149924 L 213.143802 281.90966 L 214.98843 281.675669 L 216.371901 281.492957 L 217.640083 281.317752 L 219.023554 281.118256 L 220.407025 280.910878 L 221.905785 280.678374 L 223.519835 280.420148 L 225.364463 280.116912 L 226.517355 279.924344 L 227.439669 280.800668 L 228.131405 281.445985 L 228.707851 281.972481 L 229.284298 282.487015 L 229.860744 282.988815 L 230.43719 283.477826 L 231.013636 283.954533 L 231.590083 284.419708 L 232.166529 284.874151 L 232.742975 285.318469 L 233.319421 285.752957 L 233.895868 286.177585 L 234.472314 286.592057 L 235.04876 286.995918 L 235.625207 287.388672 L 236.201653 287.769885 L 236.778099 288.139279 L 237.239256 288.426235 L 237.815702 288.774368 L 238.392149 289.111126 L 238.968595 289.437062 L 239.545041 289.752828 L 240.121488 290.059077 L 240.697934 290.356392 L 241.27438 290.645247 L 241.850826 290.926009 L 242.427273 291.198957 L 243.003719 291.46432 L 243.695455 291.773021 L 244.38719 292.071431 L 245.078926 292.359916 L 245.770661 292.638877 L 246.462397 292.908734 L 247.154132 293.169903 L 247.845868 293.422764 L 248.537603 293.66765 L 249.229339 293.904848 L 249.921074 294.134608 L 250.728099 294.393571 L 251.535124 294.643093 L 252.342149 294.883556 L 253.149174 295.115369 L 253.956198 295.338961 L 254.763223 295.554772 L 255.685537 295.792441 L 256.607851 296.021127 L 257.530165 296.241402 L 258.452479 296.45381 L 259.490083 296.684006 L 260.527686 296.905604 L 261.565289 297.119271 L 262.718182 297.348135 L 263.871074 297.568757 L 265.139256 297.802763 L 266.407438 298.028495 L 267.790909 298.26619 L 269.17438 298.495765 L 270.67314 298.73609 L 272.171901 298.968309 L 274.247107 299.280232 L 275.861157 299.513681 L 277.475207 299.739086 L 279.204545 299.972121 L 280.933884 300.196757 L 282.663223 300.413282 L 284.392562 300.62194 L 286.23719 300.836098 L 288.081818 301.041852 L 289.926446 301.239503 L 291.771074 301.429372 L 293.730992 301.622953 L 295.690909 301.808524 L 297.766116 301.996697 L 299.841322 302.176699 L 301.916529 302.348817 L 303.991736 302.513212 L 306.066942 302.669909 L 308.142149 302.818813 L 310.217355 302.959754 L 312.292562 303.092562 L 314.367769 303.217136 L 316.442975 303.33352 L 318.518182 303.441935 L 320.708678 303.548185 L 323.014463 303.651668 L 325.435537 303.752099 L 328.08719 303.853736 L 330.969421 303.955868 L 334.082231 304.058112 L 337.540909 304.163707 L 341.460744 304.275163 L 345.841736 304.391616 L 351.029752 304.521269 L 357.255372 304.668501 L 364.057438 304.821384 L 370.628926 304.961224 L 376.739256 305.083273 L 382.503719 305.190394 L 388.152893 305.287393 L 394.493802 305.388025 L 398.528926 305.44941 L 398.528926 305.44941 
" clip-path="url(#p592ca7b5fa)" style="fill: none; stroke: #0000ff; stroke-width: 1.5; stroke-linecap: square"/>
   </g>
   <g id="line2d_44">
    <path d="M 121.834711 440.491682 L 121.95 440.489545 L 122.065289 440.483124 L 122.180579 440.472408 L 122.295868 440.457387 L 122.411157 440.419236 L 122.526446 440.272783 L 122.872314 439.663607 L 122.987603 439.434769 L 123.102893 439.179544 L 123.333471 438.64225 L 124.255785 436.425561 L 124.601653 435.567292 L 125.408678 433.532395 L 126.330992 431.201444 L 126.792149 430.070308 L 127.138017 429.246753 L 127.483884 428.449861 L 127.829752 427.68153 L 128.060331 427.1857 L 128.290909 426.703423 L 128.521488 426.235276 L 128.752066 425.782003 L 128.982645 425.344411 L 129.213223 424.923213 L 129.443802 424.518885 L 129.67438 424.131553 L 129.904959 423.760959 L 130.135537 423.406489 L 130.366116 423.067267 L 130.596694 422.742255 L 130.827273 422.430354 L 131.057851 422.130483 L 131.28843 421.841606 L 131.519008 421.562749 L 131.749587 421.292996 L 132.095455 420.903571 L 132.441322 420.530115 L 132.78719 420.170572 L 133.133058 419.823609 L 133.478926 419.48869 L 133.824793 419.165965 L 134.170661 418.856047 L 134.516529 418.559733 L 134.862397 418.277724 L 135.208264 418.010355 L 135.554132 417.757379 L 135.9 417.517889 L 136.245868 417.29047 L 136.591736 417.07353 L 136.937603 416.865673 L 137.283471 416.665929 L 137.629339 416.473787 L 137.975207 416.289087 L 138.321074 416.111876 L 138.666942 415.942293 L 139.01281 415.780501 L 139.358678 415.626628 L 139.704545 415.4807 L 140.050413 415.342558 L 140.396281 415.211768 L 140.857438 415.047519 L 141.318595 414.892762 L 141.895041 414.709488 L 142.471488 414.535446 L 143.047934 414.370444 L 143.509091 414.245593 L 143.970248 414.12783 L 144.431405 414.017873 L 144.892562 413.916431 L 145.353719 413.824165 L 145.814876 413.741549 L 146.276033 413.668588 L 146.73719 413.604485 L 147.313636 413.534202 L 148.005372 413.458962 L 149.042975 413.355393 L 150.080579 413.259865 L 151.002893 413.182515 L 151.925207 413.113448 L 152.732231 413.060697 L 153.539256 413.01591 L 154.346281 412.979842 L 155.038017 412.956441 L 155.729752 412.940484 L 156.421488 412.932441 L 157.113223 412.932669 L 157.804959 412.941165 L 158.496694 412.957412 L 159.303719 412.984972 L 160.226033 413.025811 L 161.263636 413.080673 L 162.762397 413.169589 L 164.952893 413.29976 L 165.990496 413.353083 L 166.91281 413.392111 L 167.719835 413.418563 L 168.642149 413.44107 L 170.02562 413.465953 L 172.100826 413.494434 L 175.790083 413.544235 L 177.288843 413.573373 L 178.441736 413.603294 L 179.594628 413.640721 L 180.86281 413.689591 L 182.36157 413.755712 L 184.206198 413.845928 L 190.892975 414.18215 L 192.276446 414.239478 L 193.544628 414.284361 L 194.697521 414.317473 L 195.850413 414.342544 L 197.349174 414.36628 L 200.346694 414.404565 L 203.805372 414.440872 L 207.840496 414.474982 L 213.028512 414.510217 L 220.176446 414.550538 L 225.479752 414.572445 L 226.517355 414.575794 L 227.670248 415.252251 L 228.477273 415.716436 L 229.169008 416.105658 L 229.860744 416.485947 L 230.552479 416.857167 L 231.244215 417.219705 L 231.93595 417.574178 L 232.742975 417.978266 L 233.55 418.372557 L 234.357025 418.756932 L 235.04876 419.078122 L 235.740496 419.391255 L 236.432231 419.695987 L 237.123967 419.992134 L 237.815702 420.279727 L 238.507438 420.559007 L 239.199174 420.830361 L 240.006198 421.137494 L 240.813223 421.434985 L 241.620248 421.723183 L 242.427273 422.002232 L 243.234298 422.272173 L 244.041322 422.533047 L 244.848347 422.784976 L 245.655372 423.028207 L 246.462397 423.263097 L 247.269421 423.490046 L 248.076446 423.709425 L 248.99876 423.951237 L 249.921074 424.183826 L 250.843388 424.407411 L 251.765702 424.62222 L 252.688017 424.828548 L 253.610331 425.026775 L 254.532645 425.217316 L 255.570248 425.422948 L 256.607851 425.619703 L 257.645455 425.807829 L 258.683058 425.987545 L 259.720661 426.159149 L 260.758264 426.323084 L 261.911157 426.49697 L 263.06405 426.663087 L 264.332231 426.837986 L 265.715702 427.020721 L 267.214463 427.210589 L 268.828512 427.40706 L 270.557851 427.609605 L 272.402479 427.817347 L 274.592975 428.054982 L 276.437603 428.24623 L 278.282231 428.42956 L 280.12686 428.60501 L 281.971488 428.772435 L 283.816116 428.931602 L 285.660744 429.082283 L 287.390083 429.215689 L 289.119421 429.341419 L 290.84876 429.459481 L 292.578099 429.569962 L 294.422727 429.679636 L 296.267355 429.781163 L 298.111983 429.874935 L 300.071901 429.966632 L 302.147107 430.0556 L 304.337603 430.141535 L 306.758678 430.228531 L 309.640909 430.323657 L 313.330165 430.436625 L 320.823967 430.655433 L 329.58595 430.915286 L 337.540909 431.149519 L 341.921901 431.270248 L 345.611157 431.363978 L 349.069835 431.443775 L 352.413223 431.512925 L 355.871901 431.576432 L 359.676446 431.638019 L 364.057438 431.700486 L 369.130165 431.764511 L 374.54876 431.824889 L 379.621488 431.873624 L 384.348347 431.911219 L 389.075207 431.940676 L 394.263223 431.964651 L 398.528926 431.980432 L 398.528926 431.980432 
" clip-path="url(#p592ca7b5fa)" style="fill: none; stroke: #008000; stroke-width: 1.5; stroke-linecap: square"/>
   </g>
   <g id="line2d_45">
    <path d="M 121.834711 349.994513 L 122.180579 350.343734 L 122.411157 350.563537 L 122.526446 350.666068 L 122.641736 350.762145 L 122.757025 350.85061 L 122.872314 350.930309 L 122.987603 351.000085 L 123.218182 351.099278 L 123.44876 351.189684 L 123.794628 351.31442 L 124.140496 351.428789 L 124.486364 351.535059 L 124.947521 351.667124 L 125.408678 351.79077 L 125.869835 351.906839 L 126.330992 352.013692 L 127.483884 352.267206 L 128.521488 352.492403 L 129.097934 352.627003 L 129.559091 352.742854 L 130.020248 352.867269 L 130.481405 353.000842 L 130.942562 353.143704 L 131.403719 353.295681 L 131.864876 353.456474 L 132.326033 353.625809 L 132.78719 353.803523 L 133.248347 353.989591 L 133.709504 354.184073 L 134.170661 354.387028 L 134.631818 354.598411 L 135.092975 354.818001 L 135.554132 355.045376 L 136.130579 355.339625 L 136.707025 355.643737 L 137.283471 355.956385 L 137.975207 356.341465 L 138.666942 356.736758 L 139.358678 357.142659 L 139.935124 357.489544 L 140.62686 357.91622 L 141.318595 358.353008 L 142.240909 358.946218 L 144.200826 360.21138 L 145.12314 360.796169 L 146.160744 361.444241 L 147.313636 362.154533 L 148.466529 362.855301 L 149.504132 363.476737 L 150.541736 364.088326 L 151.579339 364.689968 L 152.616942 365.282547 L 153.769835 365.932066 L 155.153306 366.702051 L 157.113223 367.782367 L 160.341322 369.561092 L 164.491736 371.852824 L 165.875207 372.606092 L 167.028099 373.225585 L 168.065702 373.774998 L 169.103306 374.315234 L 170.02562 374.786649 L 170.947934 375.24901 L 171.870248 375.702082 L 172.792562 376.146376 L 173.830165 376.637052 L 174.983058 377.172595 L 176.13595 377.699045 L 177.288843 378.216795 L 178.441736 378.725999 L 179.594628 379.226772 L 180.747521 379.719225 L 181.900413 380.20347 L 183.053306 380.679616 L 184.206198 381.147766 L 185.359091 381.607964 L 186.511983 382.060108 L 187.664876 382.503956 L 188.817769 382.939407 L 189.970661 383.366744 L 191.238843 383.828157 L 192.622314 384.322255 L 194.005785 384.807918 L 195.619835 385.36556 L 197.349174 385.954503 L 199.539669 386.69174 L 205.765289 388.773583 L 207.379339 389.305109 L 208.76281 389.752561 L 209.915702 390.117766 L 211.068595 390.474434 L 212.106198 390.786942 L 213.028512 391.057143 L 213.950826 391.319695 L 214.87314 391.57455 L 215.910744 391.852748 L 217.063636 392.15274 L 218.216529 392.444352 L 219.369421 392.727983 L 220.522314 393.003554 L 221.675207 393.27086 L 222.828099 393.529691 L 223.980992 393.779928 L 225.133884 394.02202 L 226.517355 394.305123 L 228.592562 394.636168 L 230.091322 394.866668 L 231.474793 395.07088 L 232.858264 395.266377 L 234.241736 395.453666 L 235.855785 395.663473 L 237.585124 395.87961 L 239.199174 396.073535 L 240.813223 396.259422 L 242.311983 396.424352 L 243.810744 396.581637 L 245.424793 396.742704 L 247.154132 396.906657 L 248.883471 397.06257 L 250.61281 397.210491 L 252.342149 397.35006 L 253.956198 397.47256 L 255.685537 397.595568 L 257.530165 397.718136 L 259.490083 397.839979 L 261.45 397.954025 L 263.409917 398.060378 L 265.369835 398.159039 L 267.445041 398.255287 L 269.520248 398.343482 L 271.710744 398.428559 L 274.592975 398.531406 L 277.01405 398.609377 L 279.550413 398.683024 L 282.317355 398.755216 L 285.314876 398.825278 L 288.658264 398.895171 L 292.46281 398.966277 L 296.843802 399.039862 L 302.492975 399.126256 L 311.254959 399.251299 L 320.016942 399.369308 L 326.127273 399.443729 L 331.661157 399.503078 L 337.656198 399.559177 L 345.495868 399.623961 L 355.756612 399.700554 L 364.979752 399.761774 L 373.05 399.807458 L 380.313223 399.840718 L 387.345868 399.864864 L 395.185537 399.883267 L 398.528926 399.889546 L 398.528926 399.889546 
" clip-path="url(#p592ca7b5fa)" style="fill: none; stroke: #ff0000; stroke-width: 1.5; stroke-linecap: square"/>
   </g>
   <g id="patch_15">
    <path d="M 108 448.56 L 108 272.16 
" style="fill: none; stroke: #000000; stroke-width: 0.8; stroke-linejoin: miter; stroke-linecap: square"/>
   </g>
   <g id="patch_16">
    <path d="M 412.363636 448.56 L 412.363636 272.16 
" style="fill: none; stroke: #000000; stroke-width: 0.8; stroke-linejoin: miter; stroke-linecap: square"/>
   </g>
   <g id="patch_17">
    <path d="M 108 448.56 L 412.363636 448.56 
" style="fill: none; stroke: #000000; stroke-width: 0.8; stroke-linejoin: miter; stroke-linecap: square"/>
   </g>
   <g id="patch_18">
    <path d="M 108 272.16 L 412.363636 272.16 
" style="fill: none; stroke: #000000; stroke-width: 0.8; stroke-linejoin: miter; stroke-linecap: square"/>
   </g>
   <g id="legend_3">
    <g id="patch_19">
     <path d="M 303.733636 384.48 L 405.363636 384.48 Q 407.363636 384.48 407.363636 382.48 L 407.363636 338.24 Q 407.363636 336.24 405.363636 336.24 L 303.733636 336.24 Q 301.733636 336.24 301.733636 338.24 L 301.733636 382.48 Q 301.733636 384.48 303.733636 384.48 z
" style="fill: #ffffff; opacity: 0.8; stroke: #cccccc; stroke-linejoin: miter"/>
    </g>
    <g id="line2d_46">
     <path d="M 305.733636 344.66 L 315.733636 344.66 L 325.733636 344.66 
" style="fill: none; stroke: #0000ff; stroke-width: 1.5; stroke-linecap: square"/>
    </g>
    <g id="text_46">
     <text style="font-size: 10.5px; font-family: 'Liberation Sans', sans-serif; text-anchor: start" x="333.733636" y="348.16" transform="rotate(-0 333.733636 348.16)" textLength="36.9580" lengthAdjust="spacingAndGlyphs">H (J/kg)</text>
    </g>
    <g id="line2d_47">
     <path d="M 305.733636 359.74 L 315.733636 359.74 L 325.733636 359.74 
" style="fill: none; stroke: #008000; stroke-width: 1.5; stroke-linecap: square"/>
    </g>
    <g id="text_47">
     <text style="font-size: 10.5px; font-family: 'Liberation Sans', sans-serif; text-anchor: start" x="333.733636" y="363.24" transform="rotate(-0 333.733636 363.24)" textLength="36.7578" lengthAdjust="spacingAndGlyphs">U (J/kg)</text>
    </g>
    <g id="line2d_48">
     <path d="M 305.733636 374.82 L 315.733636 374.82 L 325.733636 374.82 
" style="fill: none; stroke: #ff0000; stroke-width: 1.5; stroke-linecap: square"/>
    </g>
    <g id="text_48">
     <text style="font-size: 10.5px; font-family: 'Liberation Sans', sans-serif; text-anchor: start" x="333.733636" y="378.32" transform="rotate(-0 333.733636 378.32)" textLength="69.6094" lengthAdjust="spacingAndGlyphs">S*100 (J/kg K)</text>
    </g>
   </g>
  </g>
  <g id="axes_4">
   <g id="patch_20">
    <path d="M 473.236364 448.56 L 777.6 448.56 L 777.6 272.16 L 473.236364 272.16 z
" style="fill: #ffffff"/>
   </g>
   <g id="matplotlib.axis_7">
    <g id="xtick_19">
     <g id="line2d_49">
      <g>
       <use href="#ma447942d81" x="487.071074" y="448.56" style="stroke: #000000; stroke-width: 0.8"/>
      </g>
     </g>
     <g id="text_49">
      <text style="font-size: 10.5px; font-family: 'Liberation Sans', sans-serif; text-anchor: middle" x="487.071074" y="463.48" transform="rotate(-0 487.071074 463.48)" textLength="6.3623" lengthAdjust="spacingAndGlyphs">0</text>
     </g>
    </g>
    <g id="xtick_20">
     <g id="line2d_50">
      <g>
       <use href="#ma447942d81" x="544.715702" y="448.56" style="stroke: #000000; stroke-width: 0.8"/>
      </g>
     </g>
     <g id="text_50">
      <text style="font-size: 10.5px; font-family: 'Liberation Sans', sans-serif; text-anchor: middle" x="544.715702" y="463.48" transform="rotate(-0 544.715702 463.48)" textLength="12.7246" lengthAdjust="spacingAndGlyphs">50</text>
     </g>
    </g>
    <g id="xtick_21">
     <g id="line2d_51">
      <g>
       <use href="#ma447942d81" x="602.360331" y="448.56" style="stroke: #000000; stroke-width: 0.8"/>
      </g>
     </g>
     <g id="text_51">
      <text style="font-size: 10.5px; font-family: 'Liberation Sans', sans-serif; text-anchor: middle" x="602.360331" y="463.48" transform="rotate(-0 602.360331 463.48)" textLength="19.0869" lengthAdjust="spacingAndGlyphs">100</text>
     </g>
    </g>
    <g id="xtick_22">
     <g id="line2d_52">
      <g>
       <use href="#ma447942d81" x="660.004959" y="448.56" style="stroke: #000000; stroke-width: 0.8"/>
      </g>
     </g>
     <g id="text_52">
      <text style="font-size: 10.5px; font-family: 'Liberation Sans', sans-serif; text-anchor: middle" x="660.004959" y="463.48" transform="rotate(-0 660.004959 463.48)" textLength="19.0869" lengthAdjust="spacingAndGlyphs">150</text>
     </g>
    </g>
    <g id="xtick_23">
     <g id="line2d_53">
      <g>
       <use href="#ma447942d81" x="717.649587" y="448.56" style="stroke: #000000; stroke-width: 0.8"/>
      </g>
     </g>
     <g id="text_53">
      <text style="font-size: 10.5px; font-family: 'Liberation Sans', sans-serif; text-anchor: middle" x="717.649587" y="463.48" transform="rotate(-0 717.649587 463.48)" textLength="19.0869" lengthAdjust="spacingAndGlyphs">200</text>
     </g>
    </g>
    <g id="xtick_24">
     <g id="line2d_54">
      <g>
       <use href="#ma447942d81" x="775.294215" y="448.56" style="stroke: #000000; stroke-width: 0.8"/>
      </g>
     </g>
     <g id="text_54">
      <text style="font-size: 10.5px; font-family: 'Liberation Sans', sans-serif; text-anchor: middle" x="775.294215" y="463.48" transform="rotate(-0 775.294215 463.48)" textLength="19.0869" lengthAdjust="spacingAndGlyphs">250</text>
     </g>
    </g>
    <g id="text_55">
     <text style="font-size: 10.5px; font-family: 'Liberation Sans', sans-serif; text-anchor: middle" x="625.418182" y="477.56" transform="rotate(-0 625.418182 477.56)" textLength="76.6357" lengthAdjust="spacingAndGlyphs">Time (seconds)</text>
    </g>
   </g>
   <g id="matplotlib.axis_8">
    <g id="ytick_17">
     <g id="line2d_55">
      <g>
       <use href="#m3c3b05f1c0" x="473.236364" y="441.509812" style="stroke: #000000; stroke-width: 0.8"/>
      </g>
     </g>
     <g id="text_56">
      <text style="font-size: 10.5px; font-family: 'Liberation Sans', sans-serif; text-anchor: end" x="466.236364" y="445.469812" transform="rotate(-0 466.236364 445.469812)" textLength="43.3691" lengthAdjust="spacingAndGlyphs">−0.0030</text>
     </g>
    </g>
    <g id="ytick_18">
     <g id="line2d_56">
      <g>
       <use href="#m3c3b05f1c0" x="473.236364" y="414.600699" style="stroke: #000000; stroke-width: 0.8"/>
      </g>
     </g>
     <g id="text_57">
      <text style="font-size: 10.5px; font-family: 'Liberation Sans', sans-serif; text-anchor: end" x="466.236364" y="418.560699" transform="rotate(-0 466.236364 418.560699)" textLength="43.3691" lengthAdjust="spacingAndGlyphs">−0.0025</text>
     </g>
    </g>
    <g id="ytick_19">
     <g id="line2d_57">
      <g>
       <use href="#m3c3b05f1c0" x="473.236364" y="387.691586" style="stroke: #000000; stroke-width: 0.8"/>
      </g>
     </g>
     <g id="text_58">
      <text style="font-size: 10.5px; font-family: 'Liberation Sans', sans-serif; text-anchor: end" x="466.236364" y="391.651586" transform="rotate(-0 466.236364 391.651586)" textLength="43.3691" lengthAdjust="spacingAndGlyphs">−0.0020</text>
     </g>
    </g>
    <g id="ytick_20">
     <g id="line2d_58">
      <g>
       <use href="#m3c3b05f1c0" x="473.236364" y="360.782473" style="stroke: #000000; stroke-width: 0.8"/>
      </g>
     </g>
     <g id="text_59">
      <text style="font-size: 10.5px; font-family: 'Liberation Sans', sans-serif; text-anchor: end" x="466.236364" y="364.742473" transform="rotate(-0 466.236364 364.742473)" textLength="43.3691" lengthAdjust="spacingAndGlyphs">−0.0015</text>
     </g>
    </g>
    <g id="ytick_21">
     <g id="line2d_59">
      <g>
       <use href="#m3c3b05f1c0" x="473.236364" y="333.87336" style="stroke: #000000; stroke-width: 0.8"/>
      </g>
     </g>
     <g id="text_60">
      <text style="font-size: 10.5px; font-family: 'Liberation Sans', sans-serif; text-anchor: end" x="466.236364" y="337.83336" transform="rotate(-0 466.236364 337.83336)" textLength="43.3691" lengthAdjust="spacingAndGlyphs">−0.0010</text>
     </g>
    </g>
    <g id="ytick_22">
     <g id="line2d_60">
      <g>
       <use href="#m3c3b05f1c0" x="473.236364" y="306.964247" style="stroke: #000000; stroke-width: 0.8"/>
      </g>
     </g>
     <g id="text_61">
      <text style="font-size: 10.5px; font-family: 'Liberation Sans', sans-serif; text-anchor: end" x="466.236364" y="310.924247" transform="rotate(-0 466.236364 310.924247)" textLength="43.3691" lengthAdjust="spacingAndGlyphs">−0.0005</text>
     </g>
    </g>
    <g id="ytick_23">
     <g id="line2d_61">
      <g>
       <use href="#m3c3b05f1c0" x="473.236364" y="280.055134" style="stroke: #000000; stroke-width: 0.8"/>
      </g>
     </g>
     <g id="text_62">
      <text style="font-size: 10.5px; font-family: 'Liberation Sans', sans-serif; text-anchor: end" x="466.236364" y="284.015134" transform="rotate(-0 466.236364 284.015134)" textLength="34.9902" lengthAdjust="spacingAndGlyphs">0.0000</text>
     </g>
    </g>
    <g id="text_63">
     <text style="font-size: 10.5px; font-family: 'Liberation Sans', sans-serif; text-anchor: middle" x="416.696364" y="360.36" transform="rotate(-90 416.696364 360.36)" textLength="78.4424" lengthAdjust="spacingAndGlyphs">Vent rate (kg/s)</text>
    </g>
   </g>
   <g id="line2d_62">
    <path d="M 487.071074 440.594903 L 591.753719 440.594903 L 591.753719 280.055134 L 763.765289 280.055134 
" clip-path="url(#p60add66c9a)" style="fill: none; stroke: #0000ff; stroke-width: 1.5; stroke-linecap: square"/>
   </g>
   <g id="patch_21">
    <path d="M 473.236364 448.56 L 473.236364 272.16 
" style="fill: none; stroke: #000000; stroke-width: 0.8; stroke-linejoin: miter; stroke-linecap: square"/>
   </g>
   <g id="patch_22">
    <path d="M 777.6 448.56 L 777.6 272.16 
" style="fill: none; stroke: #000000; stroke-width: 0.8; stroke-linejoin: miter; stroke-linecap: square"/>
   </g>
   <g id="patch_23">
    <path d="M 473.236364 448.56 L 777.6 448.56 
" style="fill: none; stroke: #000000; stroke-width: 0.8; stroke-linejoin: miter; stroke-linecap: square"/>
   </g>
   <g id="patch_24">
    <path d="M 473.236364 272.16 L 777.6 272.16 
" style="fill: none; stroke: #000000; stroke-width: 0.8; stroke-linejoin: miter; stroke-linecap: square"/>
   </g>
  </g>
 </g>
 <defs>
  <clipPath id="p37c6fcc2a8">
   <rect x="108" y="60.48" width="304.363636" height="176.4"/>
  </clipPath>
  <clipPath id="p14e720ba4b">
   <rect x="473.236364" y="60.48" width="304.363636" height="176.4"/>
  </clipPath>
  <clipPath id="p592ca7b5fa">
   <rect x="108" y="272.16" width="304.363636" height="176.4"/>
  </clipPath>
  <clipPath id="p60add66c9a">
   <rect x="473.236364" y="272.16" width="304.363636" height="176.4"/>
  </clipPath>
 </defs>
</svg>

</body></html>
